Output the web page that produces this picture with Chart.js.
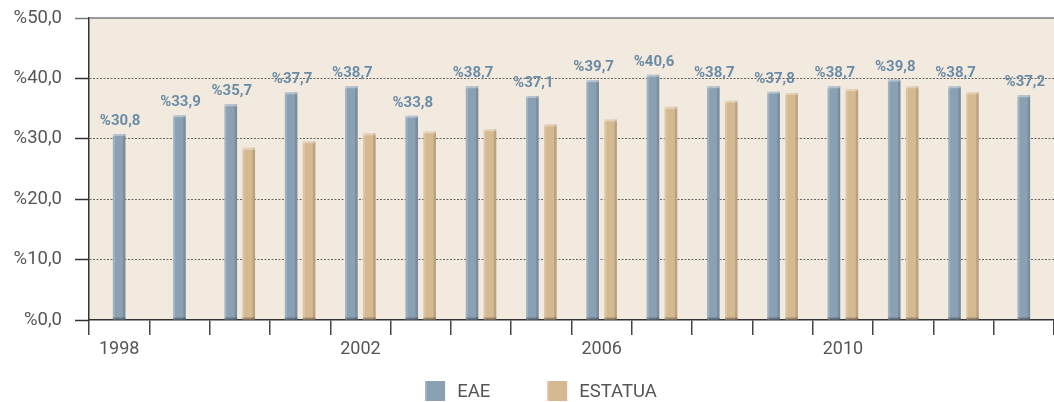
<!DOCTYPE html>
<html>
<head>
<meta charset="utf-8">
<script src="https://cdn.jsdelivr.net/npm/chart.js@4.4.0/dist/chart.umd.min.js"></script>
<style>
	html, body { margin: 0; padding: 0; background: #fff; }
	#wrap { width: 1054px; height: 402px; position: relative; }
</style>
</head>
<body>
<div id="wrap"><canvas id="chart"></canvas></div>
<script>
// data
const years = ['1998', '1999', '2000', '2001', '2002', '2003', '2004', '2005',
	'2006', '2007', '2008', '2009', '2010', '2011', '2012', '2013'];
const eaeValues = [30.8, 33.9, 35.7, 37.7, 38.7, 33.8, 38.7, 37.1, 39.7, 40.6, 38.7, 37.8, 38.7, 39.8, 38.7, 37.2];
const estatuaValues = [null, null, 28.5, 29.6, 30.9, 31.2, 31.6, 32.4, 33.2, 35.3, 36.3, 37.6, 38.2, 38.7, 37.7, null];
const seriesNames = ['EAE', 'ESTATUA'];
const yTicks = [0, 10, 20, 30, 40, 50];
const shownYears = ['1998', '2002', '2006', '2010'];

const FONT = 'Roboto, "DejaVu Sans", sans-serif';

function pct(v) {
	return '%' + v.toFixed(1).replace('.', ',');
}

// plot background
const plotBackground = {
	id: 'plotBackground',
	beforeDraw(chart) {
		const a = chart.chartArea;
		const ctx = chart.ctx;
		ctx.save();
		ctx.fillStyle = '#f2eadf';
		ctx.fillRect(a.left, a.top, a.right - a.left, a.bottom - a.top);
		ctx.restore();
	},
	afterDraw(chart) {
		// solid grey line on top (the 50 line)
		const a = chart.chartArea;
		const ctx = chart.ctx;
		ctx.save();
		ctx.strokeStyle = '#7a7a7a';
		ctx.lineWidth = 1.5;
		ctx.beginPath();
		ctx.moveTo(a.left, a.top);
		ctx.lineTo(a.right, a.top);
		ctx.stroke();
		ctx.restore();
	}
};

// little 3d look on the bars
const barShade = {
	id: 'barShade',
	afterDatasetsDraw(chart) {
		const ctx = chart.ctx;
		chart.data.datasets.forEach((ds, di) => {
			const meta = chart.getDatasetMeta(di);
			meta.data.forEach((bar, i) => {
				if (ds.data[i] == null) return;
				const p = bar.getProps(['x', 'y', 'base', 'width'], true);
				const l = p.x - p.width / 2;
				const r = p.x + p.width / 2;
				const h = p.base - p.y;
				ctx.save();
				ctx.fillStyle = 'rgba(255,255,255,0.18)';
				ctx.fillRect(l, p.y, 2, h);
				ctx.fillStyle = 'rgba(0,0,0,0.12)';
				ctx.fillRect(r - 2.5, p.y, 2.5, h);
				ctx.fillStyle = 'rgba(255,255,255,0.35)';
				ctx.fillRect(l, p.y, p.width, 2);
				ctx.fillStyle = 'rgba(0,0,0,0.25)';
				ctx.fillRect(l, p.base - 2, p.width, 2);
				ctx.restore();
			});
		});
	}
};

// value labels above EAE bars
const valueLabels = {
	id: 'valueLabels',
	afterDatasetsDraw(chart) {
		const ctx = chart.ctx;
		const meta = chart.getDatasetMeta(0);
		ctx.save();
		ctx.font = 'bold 15px ' + FONT;
		ctx.fillStyle = '#6b8ca6';
		ctx.textAlign = 'center';
		ctx.textBaseline = 'alphabetic';
		meta.data.forEach((bar, i) => {
			const v = eaeValues[i];
			if (v == null) return;
			ctx.fillText(pct(v), bar.x + 1, bar.y - 9);
		});
		ctx.restore();
	}
};

// legend drawn by hand so the spacing matches
const bottomLegend = {
	id: 'bottomLegend',
	afterDraw(chart) {
		const ctx = chart.ctx;
		const box = 20, gapText = 12, gapItem = 57;
		ctx.save();
		ctx.font = '18.5px ' + FONT;
		const widths = seriesNames.map(n => ctx.measureText(n).width);
		let total = 0;
		widths.forEach((w, i) => { total += box + gapText + w + (i ? gapItem : 0); });
		let x = 541 - total / 2;
		const y = 381;
		chart.data.datasets.forEach((ds, i) => {
			ctx.fillStyle = ds.backgroundColor;
			ctx.fillRect(x, y, box, box);
			ctx.fillStyle = 'rgba(255,255,255,0.15)';
			ctx.fillRect(x, y, 2, box);
			ctx.fillStyle = '#555';
			ctx.textBaseline = 'middle';
			ctx.textAlign = 'left';
			ctx.fillText(seriesNames[i], x + box + gapText, y + box / 2 + 1);
			x += box + gapText + widths[i] + gapItem;
		});
		ctx.restore();
	}
};

new Chart(document.getElementById('chart'), {
	type: 'bar',
	data: {
		labels: years,
		datasets: [
			{
				label: seriesNames[0],
				data: eaeValues,
				backgroundColor: '#8aa1b4',
				skipNull: true
			},
			{
				label: seriesNames[1],
				data: estatuaValues,
				backgroundColor: '#d5b991',
				skipNull: true
			}
		]
	},
	options: {
		responsive: true,
		maintainAspectRatio: false,
		animation: false,
		categoryPercentage: 0.596,
		barPercentage: 0.75,
		maxBarThickness: 12.6,
		layout: { padding: { top: 18, left: 0, right: 0, bottom: 0 } },
		plugins: {
			legend: { display: false },
			tooltip: { enabled: false }
		},
		scales: {
			x: {
				offset: true,
				afterFit: scale => { scale.height = 82; },
				grid: {
					offset: true,
					drawOnChartArea: false,
					drawTicks: true,
					tickLength: 15,
					color: '#444',
					lineWidth: 1.5
				},
				border: { display: true, color: '#333', width: 1.5 },
				ticks: {
					autoSkip: false,
					maxRotation: 0,
					padding: 4,
					color: '#555',
					font: { family: FONT, size: 18 },
					callback: function(value, index) {
						const y = years[index];
						return shownYears.includes(y) ? y : '';
					}
				}
			},
			y: {
				min: yTicks[0],
				max: yTicks[yTicks.length - 1],
				afterFit: scale => {
					scale.width = 89;
					// the tick padding is only meant for the horizontal gap
					scale.paddingTop = 0;
					scale.paddingBottom = 0;
				},
				afterBuildTicks: scale => { scale.ticks = yTicks.map(v => ({ value: v })); },
				grid: {
					color: c => (c.tick && c.tick.value > 0 && c.tick.value < 50) ? '#666' : 'rgba(0,0,0,0)',
					lineWidth: 1,
					tickLength: 14,
					tickColor: c => (c.tick && c.tick.value === 50) ? '#7a7a7a' : '#333',
					tickWidth: 1.5,
					tickBorderDash: []
				},
				border: { display: true, color: '#333', width: 1.5, dash: [2, 1.5] },
				ticks: {
					padding: 13,
					color: '#555',
					font: { family: FONT, size: 18.5 },
					callback: v => pct(v)
				}
			}
		}
	},
	plugins: [plotBackground, barShade, valueLabels, bottomLegend]
});
</script>
</body>
</html>
